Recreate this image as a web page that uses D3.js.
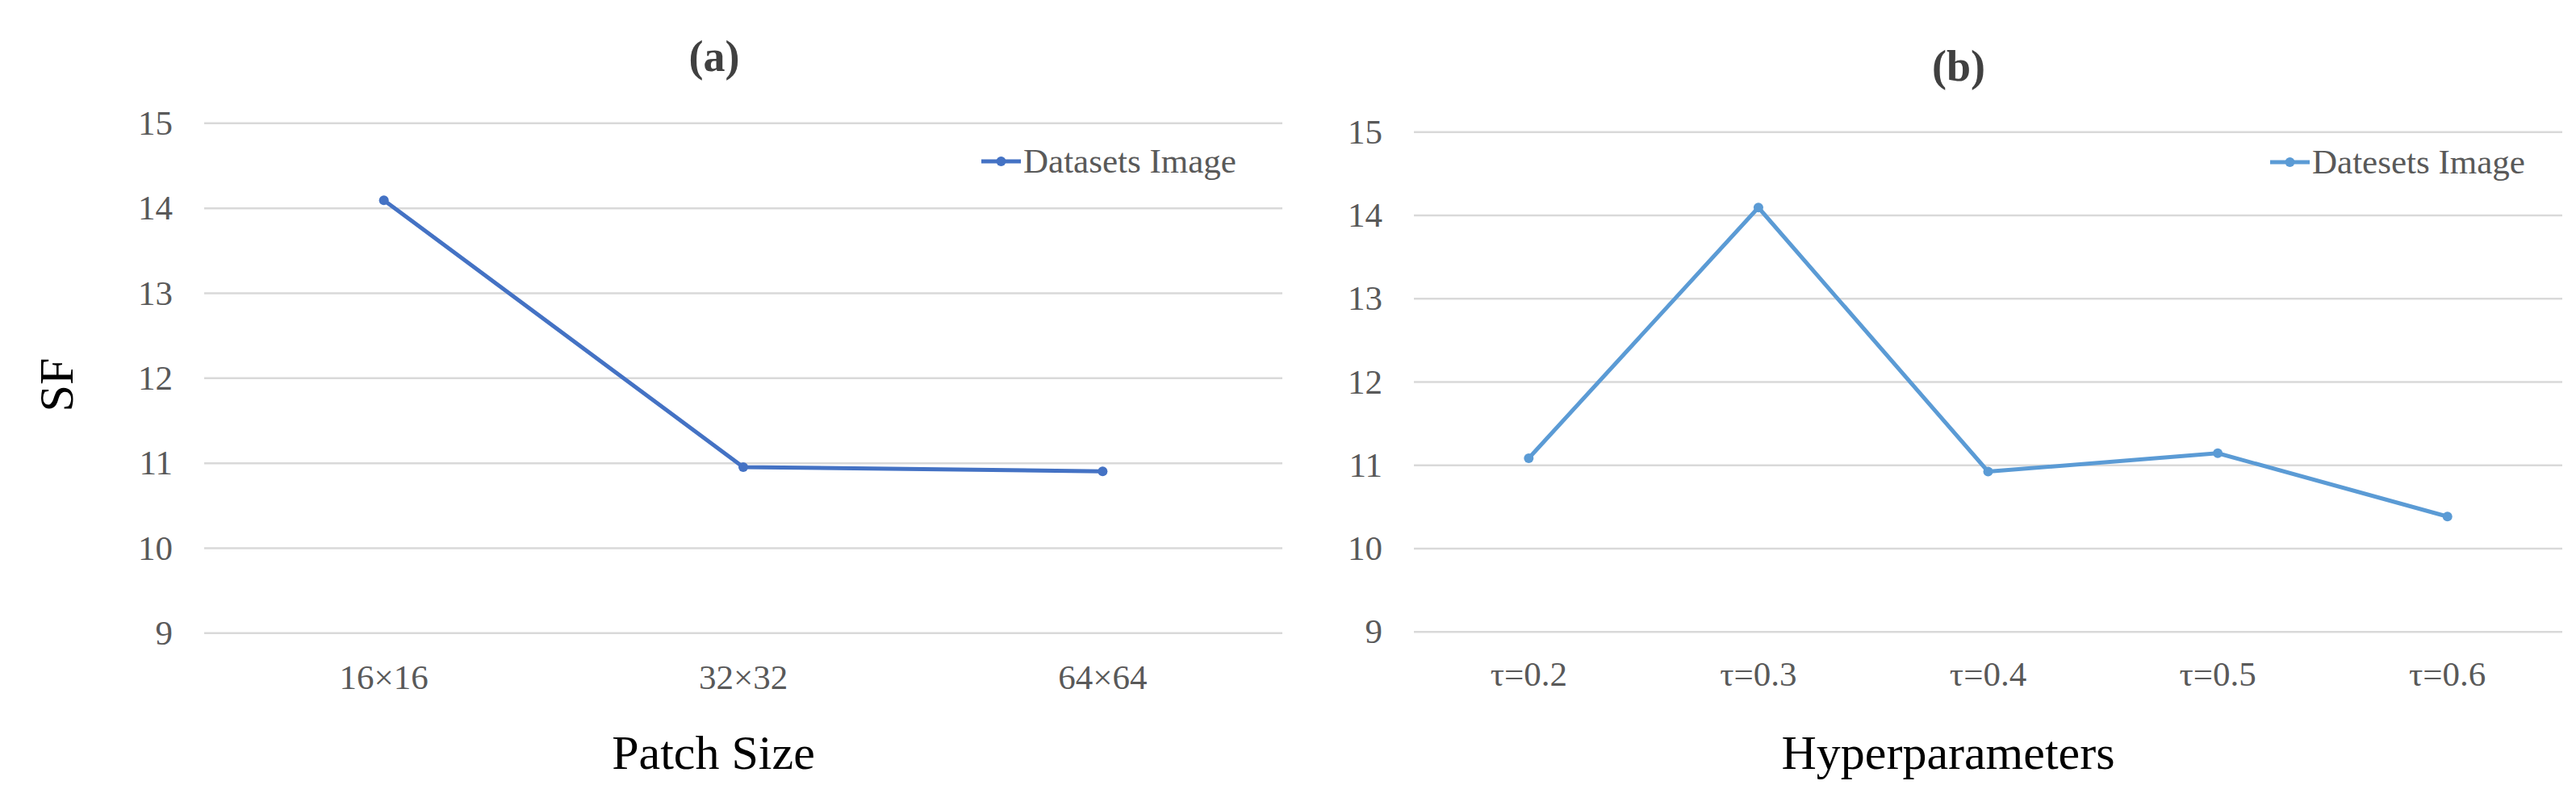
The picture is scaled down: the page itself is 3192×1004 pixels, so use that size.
<!DOCTYPE html>
<html>
<head>
<meta charset="utf-8">
<script src="https://cdn.jsdelivr.net/npm/d3@7"></script>
<style>
  html, body { margin: 0; padding: 0; background: #fff; }
  svg { display: block; }
</style>
</head>
<body>
<svg id="chart" width="3192" height="1004"></svg>
<script>
// ---- Data ----
const categoriesA = ["16×16", "32×32", "64×64"];
const valuesA = [14.09, 10.95, 10.90];
const categoriesB = ["τ=0.2", "τ=0.3", "τ=0.4", "τ=0.5", "τ=0.6"];
const valuesB = [11.08, 14.09, 10.92, 11.14, 10.38];
const yTicks = [9, 10, 11, 12, 13, 14, 15];
const legendA = "Datasets Image";
const legendB = "Datesets Image";
const titleA = "(a)";
const titleB = "(b)";
const xTitleA = "Patch Size";
const xTitleB = "Hyperparameters";
const yTitle = "SF";

const FONT = "'Liberation Serif', 'Times New Roman', serif";
const svg = d3.select("#chart");

function panel(opts) {
  const g = svg.append("g");
  const x = d3.scaleBand().domain(opts.categories).range([opts.x0, opts.x1]).padding(0);
  const y = d3.scaleLinear().domain([9, 15]).range([opts.yBottom, opts.yTop]);

  // gridlines + y tick labels
  const yAxis = g.append("g")
    .attr("transform", `translate(${opts.x0},0)`)
    .call(d3.axisLeft(y).tickValues(yTicks).tickFormat(d3.format("d"))
      .tickSize(-(opts.x1 - opts.x0)).tickPadding(0));
  yAxis.select(".domain").remove();
  yAxis.selectAll(".tick line").attr("stroke", "#D9D9D9").attr("stroke-width", 2.5);
  yAxis.selectAll(".tick text")
    .attr("x", opts.yLabelRight - opts.x0)
    .attr("dy", "0.33em")
    .attr("fill", "#595959")
    .style("font-family", FONT)
    .style("font-size", "43px");

  // x tick labels
  const xAxis = g.append("g")
    .attr("transform", `translate(0,${opts.yBottom})`)
    .call(d3.axisBottom(x).tickSize(0));
  xAxis.select(".domain").remove();
  xAxis.selectAll(".tick text")
    .attr("y", opts.xLabelOffset)
    .attr("dy", null)
    .attr("fill", "#595959")
    .style("font-family", FONT)
    .style("font-size", "43px");

  // line
  const data = opts.categories.map((c, i) => ({ c, v: opts.values[i] }));
  const line = d3.line().x(d => x(d.c) + x.bandwidth() / 2).y(d => y(d.v));
  g.append("path").datum(data)
    .attr("d", line)
    .attr("fill", "none")
    .attr("stroke", opts.color)
    .attr("stroke-width", 5)
    .attr("stroke-linejoin", "round");
  g.selectAll("circle.pt").data(data).join("circle")
    .attr("class", "pt")
    .attr("cx", d => x(d.c) + x.bandwidth() / 2)
    .attr("cy", d => y(d.v))
    .attr("r", 6)
    .attr("fill", opts.color);

  // title
  g.append("text")
    .attr("x", opts.titleX).attr("y", opts.titleY)
    .attr("text-anchor", "middle")
    .attr("fill", "#404040")
    .style("font-family", FONT).style("font-weight", "bold").style("font-size", "54px")
    .text(opts.title);

  // x axis title
  g.append("text")
    .attr("x", opts.xTitleX).attr("y", 953)
    .attr("text-anchor", "middle")
    .attr("fill", "#000")
    .style("font-family", FONT).style("font-size", "60px")
    .text(opts.xTitle);

  // legend
  const lg = g.append("g");
  lg.append("line")
    .attr("x1", opts.legX).attr("x2", opts.legX + 49)
    .attr("y1", opts.legY).attr("y2", opts.legY)
    .attr("stroke", opts.color).attr("stroke-width", 5);
  lg.append("circle")
    .attr("cx", opts.legX + 24.5).attr("cy", opts.legY).attr("r", 6)
    .attr("fill", opts.color);
  lg.append("text")
    .attr("x", opts.legX + 52).attr("y", opts.legY + 14)
    .attr("fill", "#595959")
    .style("font-family", FONT).style("font-size", "43px")
    .text(opts.legend);
}

panel({
  categories: categoriesA, values: valuesA, color: "#4472C4",
  x0: 253, x1: 1589, yTop: 152.3, yBottom: 784.3,
  yLabelRight: 214, xLabelOffset: 70,
  title: titleA, titleX: 885, titleY: 88,
  xTitle: xTitleA, xTitleX: 884,
  legend: legendA, legX: 1216, legY: 200
});

panel({
  categories: categoriesB, values: valuesB, color: "#5B9BD5",
  x0: 1752, x1: 3175, yTop: 163.3, yBottom: 782.7,
  yLabelRight: 1713, xLabelOffset: 67,
  title: titleB, titleX: 2427, titleY: 100,
  xTitle: xTitleB, xTitleX: 2414,
  legend: legendB, legX: 2813, legY: 201
});

// y axis title (left only)
svg.append("text")
  .attr("transform", "translate(90,477) rotate(-90)")
  .attr("text-anchor", "middle")
  .attr("fill", "#000")
  .style("font-family", FONT).style("font-size", "60px")
  .text(yTitle);
</script>
</body>
</html>
